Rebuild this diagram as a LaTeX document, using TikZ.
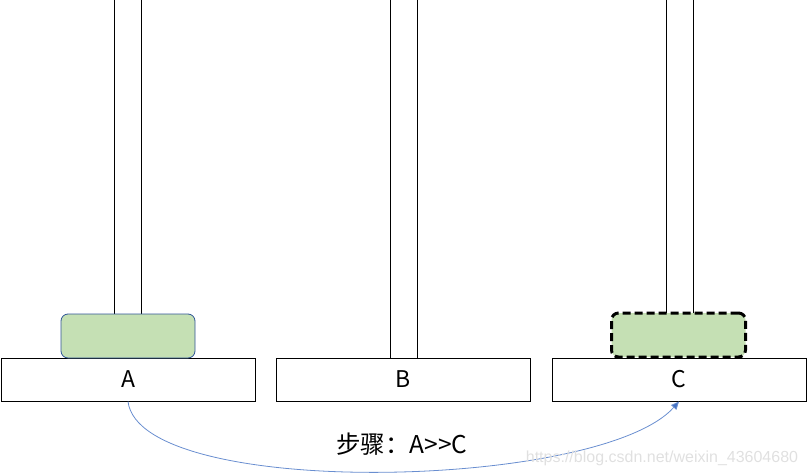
\documentclass[tikz,border=0pt]{standalone}
\usepackage{fontspec}
\usetikzlibrary{arrows.meta}
\newfontfamily\cjk{Noto Sans CJK SC}
\newfontfamily\wmfont{Liberation Sans}
\definecolor{diskgreen}{HTML}{C5E0B4}
\definecolor{diskedge}{HTML}{2F5597}
\definecolor{movecol}{HTML}{4472C4}

\begin{document}
\begin{tikzpicture}[x=1pt,y=-1pt,
      base/.style={draw=black,line width=1pt,minimum width=254pt,minimum height=43pt,inner sep=0pt,
        font=\cjk\fontsize{23}{28}\selectfont},
      pole/.style={draw=black,line width=1pt,fill=white},
      disk/.style={fill=diskgreen,rounded corners=7pt,minimum width=134pt,minimum height=44pt,inner sep=0pt},
      move/.style={draw=movecol!80,line width=0.8pt,-{Triangle[width=7pt,length=8pt,fill=movecol]}}]
      \useasboundingbox (0,0) rectangle (807,476);
      % poles
      \draw [pole] (114,-2) rectangle (141,358);
      \draw [pole] (390,-2) rectangle (417,358);
      \draw [pole] (666,-2) rectangle (693,358);
      % bases
      \node [base] (baseA) at (128,379.5) {A};
      \node [base] (baseB) at (403.5,379.5) {B};
      \node [base] (baseC) at (679,379.5) {C};
      % disks
      \node [disk,draw=diskedge,line width=0.8pt] (diskA) at (128,336) {};
      \node [disk,draw=black,line width=3pt,dash pattern=on 8pt off 4pt] (diskC) at (678.5,335) {};
      % the move
      \draw [move] (baseA.south) .. controls (140,500) and (600,490) .. (baseC.south);
      \node [font=\cjk\fontsize{24.5}{28}\selectfont] (step) at (402,444) {步骤：A>>C};
      \node [text=black!12,font=\wmfont\fontsize{16}{19}\selectfont] (mark) at (662,458) {https://blog.csdn.net/weixin\_43604680};
\end{tikzpicture}
\end{document}
